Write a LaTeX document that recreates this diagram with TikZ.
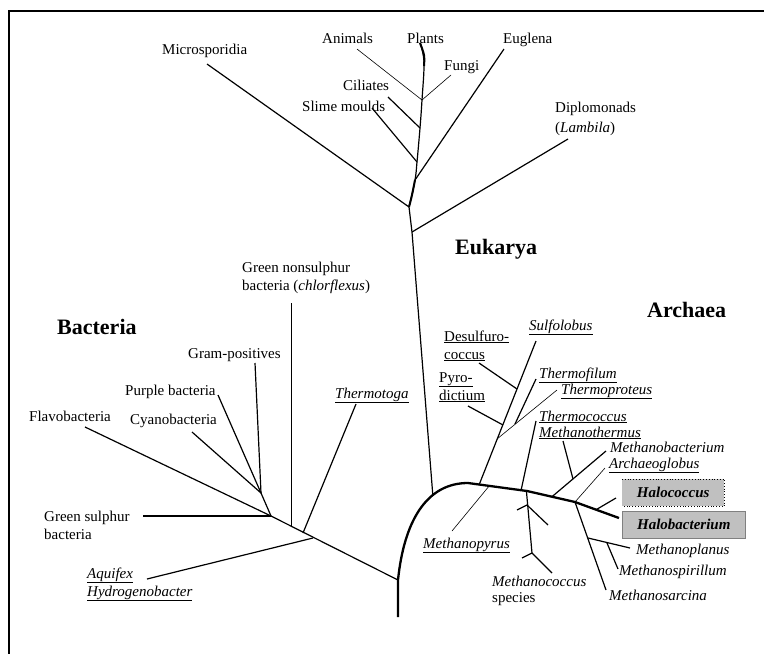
\documentclass[tikz,border=0pt]{standalone}
\usepackage{fontspec}
\setmainfont{Liberation Serif}
\definecolor{halogray}{HTML}{C0C0C0}
\begin{document}
\begin{tikzpicture}[x=1pt,y=-1pt,
  every node/.style={inner sep=0pt,anchor=base west,font=\fontsize{15}{18}\selectfont},
  kingdom/.style={font=\fontsize{22}{26}\selectfont\bfseries},
  br/.style={line width=1.2pt},
  fine/.style={line width=0.6pt},
  trunk/.style={line width=2.3pt},
  halobox/.style={anchor=north west,fill=halogray,minimum height=27pt,font=\fontsize{15}{18}\selectfont\bfseries\itshape}]
\useasboundingbox (0,0) rectangle (764,654);
\draw[line width=1.2pt] (764,11) -- (9,11) -- (9,654);

% domains
\node[kingdom] (bac) at (57,334) {Bacteria};
\node[kingdom] (euk) at (455,254) {Eukarya};
\node[kingdom] (arc) at (647,317) {Archaea};

% root and the thick archaeal stem
\coordinate (base) at (398,617);
\coordinate (root) at (398,580);
\draw[trunk] (base) -- (root)
  .. controls (404,522) and (426,483) .. coordinate[pos=0.67] (e0) (468,483)
  -- coordinate[pos=0.19] (s0) coordinate[pos=0.36] (mp0) coordinate[pos=0.9] (tc0) coordinate[pos=0.99] (mc0) (527,491)
  -- coordinate[pos=0.52] (mb0) (575,502) coordinate (ag0)
  -- coordinate[pos=0.48] (hc0) (619,518) coordinate (hb);

% Bacteria
\coordinate (b1) at (313,538);
\coordinate (b2) at (303,533);
\coordinate (b3) at (291,527);
\coordinate (b4) at (271,516);
\coordinate (b5) at (261,493);
\coordinate (aqu) at (147,579);
\coordinate (tmt) at (356,404);
\coordinate (chl) at (291,303);
\coordinate (gsb) at (143,516);
\coordinate (flv) at (85,427);
\coordinate (cya) at (192,432);
\coordinate (pur) at (218,395);
\coordinate (grm) at (255,363);
\draw[br] (root) -- (b4);
\draw[br] (b1) -- (aqu);
\draw[br] (b2) -- (tmt);
\draw[line width=0.8pt] (b3) -- (chl);
\draw[br] (b4) -- (gsb);
\draw[br] (b4) -- (flv);
\draw[br] (b4) -- (b5);
\draw[br] (b5) -- (cya);
\draw[br] (b5) -- (pur);
\draw[br] (b5) -- (grm);

\node (l-chl1) at (242,272) {Green nonsulphur};
\node (l-chl2) at (242,290) {bacteria (\textit{chlorflexus})};
\node (l-grm) at (188,358) {Gram-positives};
\node (l-pur) at (125,395) {Purple bacteria};
\node (l-flv) at (29,421) {Flavobacteria};
\node (l-cya) at (130,424) {Cyanobacteria};
\node (l-tmt) at (335,398) {\underline{\textit{Thermotoga}}};
\node (l-gsb1) at (44,521) {Green sulphur};
\node (l-gsb2) at (44,539) {bacteria};
\node (l-aqu1) at (87,578) {\underline{\textit{Aquifex}}};
\node (l-aqu2) at (87,596) {\underline{\textit{Hydrogenobacter}}};

% Eukarya
\coordinate (e1) at (412,232);
\coordinate (e2) at (409,207);
\coordinate (e3) at (415,180);
\coordinate (e4) at (417,162);
\coordinate (e5) at (420,128);
\coordinate (e6) at (422,100);
\coordinate (pla) at (420,43);
\coordinate (dip) at (568,139);
\coordinate (mic) at (207,64);
\coordinate (eug) at (504,49);
\coordinate (sli) at (372,108);
\coordinate (cil) at (388,97);
\coordinate (ani) at (357,49);
\coordinate (fun) at (451,75);
\draw[br] (e0) -- (e1) -- (e2);
\draw[br] (e1) -- (dip);
\draw[br] (e2) -- (mic);
\draw[br] plot[smooth,tension=0.6] coordinates {(e2) (e3) (e4) (e5) (e6) (424,62) (pla)};
\draw[line width=2pt] plot[smooth,tension=0.6] coordinates {(e2) (412,195) (e3)};
\draw[line width=2pt] plot[smooth,tension=0.6] coordinates {(424,66) (424,55) (pla)};
\draw[br] (e3) -- (eug);
\draw[br] (e4) -- (sli);
\draw[br] (e5) -- (cil);
\draw[fine] (e6) -- (ani);
\draw[fine] (e6) -- (fun);

\node (l-mic) at (162,54) {Microsporidia};
\node (l-ani) at (322,43) {Animals};
\node (l-pla) at (407,43) {Plants};
\node (l-eug) at (503,43) {Euglena};
\node (l-fun) at (444,70) {Fungi};
\node (l-cil) at (343,90) {Ciliates};
\node (l-sli) at (302,111) {Slime moulds};
\node (l-dip1) at (555,112) {Diplomonads};
\node (l-dip2) at (555,132) {(\textit{Lambila})};

% Archaea
\coordinate (sul) at (536,341);
\coordinate (s1) at (517,389);
\coordinate (s2) at (503,425);
\coordinate (s3) at (497,439);
\coordinate (s4) at (515,424);
\coordinate (dsc) at (479,363);
\coordinate (pyd) at (468,406);
\coordinate (tpr) at (557,390);
\coordinate (tfl) at (536,379);
\coordinate (mpy) at (452,531);
\coordinate (tcc) at (536,421);
\coordinate (mc1) at (527,505);
\coordinate (mc2) at (532,553);
\coordinate (mb1) at (573,479);
\coordinate (mba) at (606,451);
\coordinate (mth) at (563,441);
\coordinate (arg) at (605,468);
\coordinate (msa) at (606,590);
\coordinate (mpl0) at (588,538);
\coordinate (msp0) at (607,543);
\coordinate (mpl) at (630,548);
\coordinate (msp) at (618,569);
\coordinate (hcc) at (616,498);
\draw[br] (s0) -- (sul);
\draw[br] (s1) -- (dsc);
\draw[br] (s2) -- (pyd);
\draw[fine] (s3) -- (tpr);
\draw[br] (s4) -- (tfl);
\draw[fine] (mp0) -- (mpy);
\draw[br] (tc0) -- (tcc);
\draw[br] (mc0) -- (mc2);
\draw[br] (mc1) -- (517,510) coordinate (mc1l);
\draw[br] (mc1) -- (548,525) coordinate (mc1r);
\draw[br] (mc2) -- (522,558) coordinate (mc2l);
\draw[br] (mc2) -- (552,573) coordinate (mc2r);
\draw[br] (mb0) -- (mba);
\draw[br] (mb1) -- (mth);
\draw[fine] (ag0) -- (arg);
\draw[br] (ag0) -- (msa);
\draw[br] (mpl0) -- (mpl);
\draw[br] (msp0) -- (msp);
\draw[br] (hc0) -- (hcc);

\node (l-sul) at (529,330) {\underline{\textit{Sulfolobus}}};
\node (l-dsc1) at (444,341) {\underline{Desulfuro-}};
\node (l-dsc2) at (444,359) {\underline{coccus}};
\node (l-pyd1) at (439,382) {\underline{Pyro-}};
\node (l-pyd2) at (439,400) {\underline{dictium}};
\node (l-tfl) at (539,378) {\underline{\textit{Thermofilum}}};
\node (l-tpr) at (561,394) {\underline{\textit{Thermoproteus}}};
\node (l-tcc) at (539,421) {\underline{\textit{Thermococcus}}};
\node (l-mth) at (539,437) {\underline{\textit{Methanothermus}}};
\node (l-mba) at (610,452) {\textit{Methanobacterium}};
\node (l-arg) at (609,468) {\underline{\textit{Archaeoglobus}}};
\node[halobox,minimum width=102pt] (l-hcc) at (622,479) {Halococcus};
\draw[dotted,line width=0.8pt] (l-hcc.north west) -- (l-hcc.north east) -- (l-hcc.south east) -- (l-hcc.south west);
\node[halobox,minimum width=123pt,draw=gray,line width=0.6pt] (l-hbc) at (622,511) {Halobacterium};
\node (l-mpl) at (636,554) {\textit{Methanoplanus}};
\node (l-msp) at (619,575) {\textit{Methanospirillum}};
\node (l-msa) at (609,600) {\textit{Methanosarcina}};
\node (l-mpy) at (423,548) {\underline{\textit{Methanopyrus}}};
\node (l-mcc1) at (492,586) {\textit{Methanococcus}};
\node (l-mcc2) at (492,602) {species};
\end{tikzpicture}
\end{document}
